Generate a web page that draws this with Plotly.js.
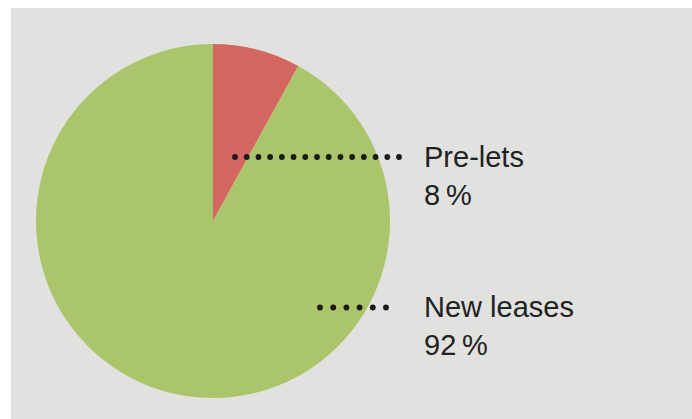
<!DOCTYPE html>
<html>
<head>
<meta charset="utf-8">
<script src="https://cdn.plot.ly/plotly-3.0.1.min.js"></script>
<style>html,body{margin:0;padding:0;background:#fff;}#chart{width:692px;height:419px;}</style>
</head>
<body>
<div id="chart"></div>
<script>
// Data
const categories = ["Pre-lets", "New leases"];
const shares = [8, 92];
const sliceColors = ["#d3665f", "#abc56b"];
const labelTexts = ["Pre-lets<br>8\u2009%", "New leases<br>92\u2009%"];

const W = 692, H = 419;
const cx = 213, cy = 221, R = 177;
const px = v => v / W;
const py = v => 1 - v / H;

// leader lines (pixel geometry): [x start, x end, y, count]
const leaders = [
  [235, 399, 157, 15],
  [320, 386, 307.5, 6]
];
const labelPos = [[422, 175.5], [422, 326]];

const shapes = [{
  type: 'rect', xref: 'paper', yref: 'paper', layer: 'below',
  x0: px(11), x1: 1, y0: 0, y1: py(8),
  fillcolor: '#e1e1df', line: {width: 0}
}];
const r = 2.9;
leaders.forEach(([xa, xb, y, n]) => {
  for (let i = 0; i < n; i++) {
    const x = xa + (xb - xa) * i / (n - 1);
    shapes.push({
      type: 'circle', xref: 'paper', yref: 'paper', layer: 'above',
      x0: px(x - r), x1: px(x + r), y0: py(y + r), y1: py(y - r),
      fillcolor: '#1a1a1a', line: {width: 0}
    });
  }
});

const annotations = labelTexts.map((t, i) => ({
  xref: 'paper', yref: 'paper',
  x: px(labelPos[i][0]), y: py(labelPos[i][1]),
  xanchor: 'left', yanchor: 'middle', align: 'left',
  text: t, showarrow: false,
  font: {family: 'Liberation Sans, Arial, sans-serif', size: 29, color: '#222222'}
}));

const trace = {
  type: 'pie',
  labels: categories,
  values: shares,
  sort: false,
  direction: 'clockwise',
  rotation: 0,
  textinfo: 'none',
  hoverinfo: 'label+percent',
  marker: {colors: sliceColors, line: {width: 0}},
  domain: {x: [px(cx - R), px(cx + R)], y: [py(cy + R), py(cy - R)]},
  showlegend: false
};

const layout = {
  width: W, height: H,
  margin: {l: 0, r: 0, t: 0, b: 0},
  paper_bgcolor: '#ffffff',
  showlegend: false,
  shapes: shapes,
  annotations: annotations
};

Plotly.newPlot('chart', [trace], layout, {displayModeBar: false, staticPlot: true});
</script>
</body>
</html>
